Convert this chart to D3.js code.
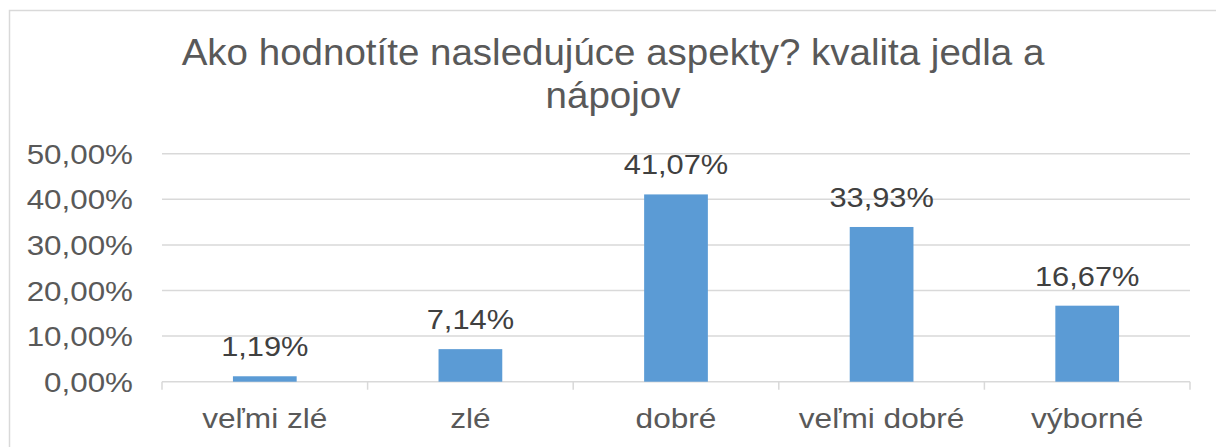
<!DOCTYPE html>
<html>
<head>
<meta charset="utf-8">
<script src="https://cdn.jsdelivr.net/npm/d3@7"></script>
<style>
  body { margin: 0; background: #fff; }
  svg { display: block; font-family: "Liberation Sans", Arial, sans-serif; }
</style>
</head>
<body>
<svg id="chart"></svg>
<script>
// data
const categories = ["veľmi zlé", "zlé", "dobré", "veľmi dobré", "výborné"];
const values     = [1.19, 7.14, 41.07, 33.93, 16.67];
const yTicks     = [0, 10, 20, 30, 40, 50];
const titleLines = ["Ako hodnotíte nasledujúce aspekty? kvalita jedla a", "nápojov"];

const width = 1216, height = 447;
const svg = d3.select("#chart")
  .attr("width", width)
  .attr("height", height);

// chart border (runs off the right/bottom edge like the screenshot)
svg.append("rect")
  .attr("x", 9.5).attr("y", 10.5)
  .attr("width", 1230).attr("height", 460)
  .attr("fill", "#fff")
  .attr("stroke", "#d9d9d9")
  .attr("stroke-width", 1.5);

const plot = { left: 162, right: 1190, top: 153.7, bottom: 381.7 };
const fmt = v => v.toFixed(2).replace(".", ",") + "%";
// the screenshot's text is a bit wider than it is tall, stretch horizontally
const place = (px, py, sx) => `translate(${px},${py}) scale(${sx},1)`;

const x = d3.scaleBand()
  .domain(categories)
  .range([plot.left, plot.right])
  .paddingInner(0.69)
  .paddingOuter(0.345);

const y = d3.scaleLinear()
  .domain([0, 50])
  .range([plot.bottom, plot.top]);

// title
svg.append("g")
  .selectAll("text")
  .data(titleLines)
  .join("text")
    .attr("transform", (d, i) => place(613, 65 + i * 43, 1.07))
    .attr("text-anchor", "middle")
    .attr("font-size", 36)
    .attr("fill", "#595959")
    .text(d => d);

// gridlines
svg.append("g")
  .selectAll("line")
  .data(yTicks)
  .join("line")
    .attr("x1", plot.left).attr("x2", plot.right)
    .attr("y1", d => y(d)).attr("y2", d => y(d))
    .attr("stroke", "#d9d9d9")
    .attr("stroke-width", 1.5);

// y labels
svg.append("g")
  .selectAll("text")
  .data(yTicks)
  .join("text")
    .attr("transform", d => place(133, y(d), 1.12))
    .attr("dy", "0.36em")
    .attr("text-anchor", "end")
    .attr("font-size", 28)
    .attr("fill", "#595959")
    .text(d => fmt(d));

// category boundary ticks
const step = x.step();
svg.append("g")
  .selectAll("line")
  .data(d3.range(categories.length + 1))
  .join("line")
    .attr("x1", i => plot.left + i * step).attr("x2", i => plot.left + i * step)
    .attr("y1", plot.bottom).attr("y2", plot.bottom + 8)
    .attr("stroke", "#d9d9d9")
    .attr("stroke-width", 1.5);

// bars
svg.append("g")
  .selectAll("rect")
  .data(values)
  .join("rect")
    .attr("x", (d, i) => x(categories[i]))
    .attr("y", d => y(d))
    .attr("width", x.bandwidth())
    .attr("height", d => y(0) - y(d))
    .attr("fill", "#5b9bd5");

// data labels
svg.append("g")
  .selectAll("text")
  .data(values)
  .join("text")
    .attr("transform", (d, i) => place(x(categories[i]) + x.bandwidth() / 2, y(d) - 20, 1.1))
    .attr("text-anchor", "middle")
    .attr("font-size", 28)
    .attr("fill", "#404040")
    .text(d => fmt(d));

// category labels
svg.append("g")
  .selectAll("text")
  .data(categories)
  .join("text")
    .attr("transform", d => place(x(d) + x.bandwidth() / 2, 428, 1.13))
    .attr("text-anchor", "middle")
    .attr("font-size", 28)
    .attr("fill", "#595959")
    .text(d => d);
</script>
</body>
</html>
